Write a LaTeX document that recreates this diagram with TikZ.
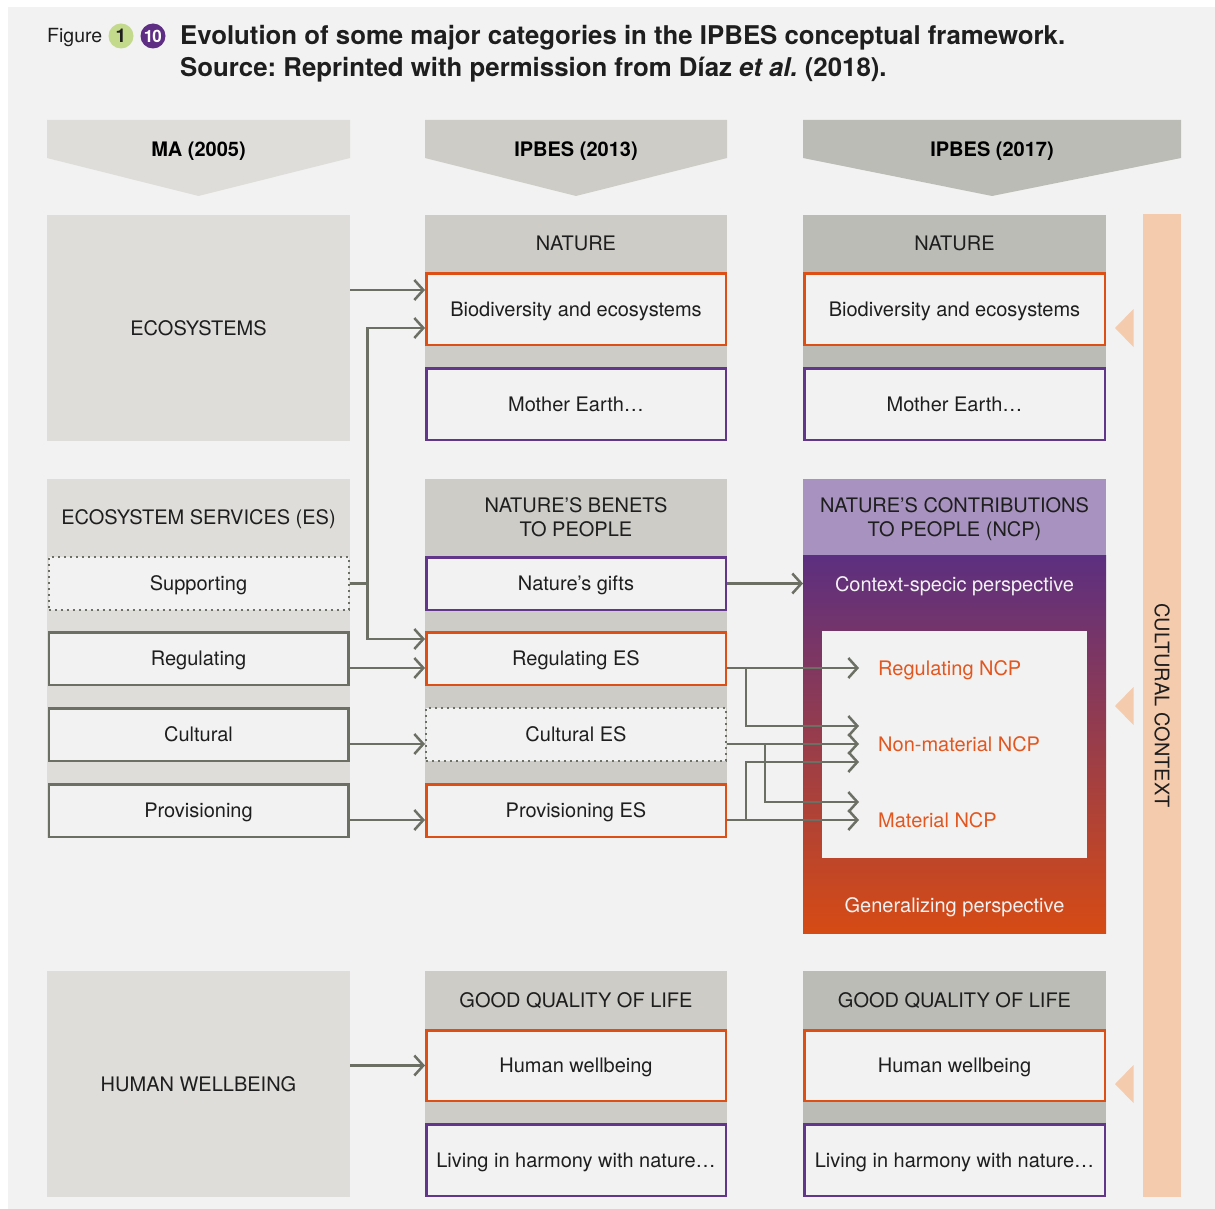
\documentclass[tikz,border=0pt]{standalone}
\usepackage{fontspec}
\setmainfont{TeX Gyre Heros}
\usetikzlibrary{arrows.meta,calc}
\definecolor{bg}{HTML}{F2F2F2}
\definecolor{g1}{HTML}{DEDDD9}
\definecolor{g2}{HTML}{CDCCC7}
\definecolor{g3}{HTML}{BBBCB6}
\definecolor{org}{HTML}{DE4F16}
\definecolor{pur}{HTML}{62368A}
\definecolor{cl}{HTML}{6C6F64}
\definecolor{lpur}{HTML}{A892BF}
\definecolor{gtop}{HTML}{5C2F80}
\definecolor{gbot}{HTML}{D64B14}
\definecolor{peach}{HTML}{F5CBAE}
\definecolor{ink}{HTML}{1E1E1E}
\definecolor{fgreen}{HTML}{C3D98B}
\definecolor{fpur}{HTML}{5E2D84}
\definecolor{otxt}{HTML}{E2571F}
\frenchspacing
\begin{document}
\begin{tikzpicture}[x=1pt,y=-1pt,
 txt/.style={font=\fontsize{20}{24}\selectfont, text=ink, text height=14.4pt, text depth=0pt, inner sep=0pt, align=center},
 panel/.style={txt, minimum height=226pt, minimum width=303pt, outer sep=0pt},
 box/.style={txt, line width=2.5pt, fill=bg, minimum width=299.5pt},
 obox/.style={box, draw=org},
 pbox/.style={box, draw=pur},
 gbox/.style={box, draw=cl},
 dbox/.style={box, draw=cl, line width=2pt, dash pattern=on 2pt off 4pt, minimum width=300pt},
 conn/.style={draw=cl, line width=2.5pt, -{Straight Barb[length=9pt,width=20pt]}},
 hdr/.style={font=\fontsize{20}{24}\selectfont\bfseries, text=black, text height=14.4pt, text depth=0pt, inner sep=0pt},
 wtxt/.style={txt, text=bg},
 otx/.style={txt, text=otxt, anchor=west},
 tri/.style={fill=peach},
]
\useasboundingbox (0,0) rectangle (1215,1209);
\fill[bg] (8,7) rectangle (1215,1209);

% title
\node[anchor=base west, inner sep=0pt, font=\fontsize{19.5}{22}\selectfont, text=ink] (fig) at (47,43) {Figure};
\node[circle, fill=fgreen, minimum size=25pt, inner sep=0pt, font=\fontsize{19}{20}\selectfont\bfseries, text=ink] (c1) at (121,36) {1};
\node[circle, fill=fpur, minimum size=25pt, inner sep=0pt, font=\fontsize{17}{18}\selectfont\bfseries, text=white] (c10) at (153,36) {\kern-0.5pt1\kern-1pt0};
\node[anchor=base west, inner sep=0pt, font=\fontsize{25.8}{32}\selectfont\bfseries, text=ink] (t1) at (180,45) {Evolution of some major categories in the IPBES conceptual framework.};
\node[anchor=base west, inner sep=0pt, font=\fontsize{25.8}{32}\selectfont\bfseries, text=ink] (t2) at (180,77) {Source: Reprinted with permission from Díaz \textit{et al.} (2018).};

% column headers
\fill[g1] (47,120) -- (350,120) -- (350,158) -- (198.5,196) -- (47,158) -- cycle;
\fill[g2] (425,120) -- (727,120) -- (727,158) -- (576,196) -- (425,158) -- cycle;
\fill[g3] (803,120) -- (1181,120) -- (1181,158) -- (992,196) -- (803,158) -- cycle;
\node[hdr] (h1) at (198.5,149) {MA (2005)};
\node[hdr] (h2) at (576,149) {IPBES (2013)};
\node[hdr] (h3) at (992,149) {IPBES (2017)};

% top row
\node[panel, fill=g1] (eco) at (198.5,328) {ECOSYSTEMS};
\node[panel, fill=g2, minimum width=302pt] (p2a) at (576,328) {};
\node[panel, fill=g3] (p3a) at (954.5,328) {};
\node[txt] (nat2) at (576,243) {NATURE};
\node[txt] (nat3) at (954.5,243) {NATURE};
\node[obox, minimum height=71.5pt] (bio2) at (576,309) {Biodiversity and ecosystems};
\node[pbox, minimum height=71.5pt] (me2) at (576,404) {Mother Earth…};
\node[obox, minimum height=71.5pt, minimum width=300.5pt] (bio3) at (954.5,309) {Biodiversity and ecosystems};
\node[pbox, minimum height=71.5pt, minimum width=300.5pt] (me3) at (954.5,404) {Mother Earth…};

% middle row
\node[panel, fill=g1, minimum height=359pt] (p1b) at (198.5,658.5) {};
\node[txt] (es1) at (198.5,517) {ECOSYSTEM SERVICES (ES)};
\node[dbox, minimum height=53pt] (sup1) at (198.5,583.5) {Supporting};
\node[gbox, minimum height=52.5pt] (reg1) at (198.5,658.5) {Regulating};
\node[gbox, minimum height=52.5pt] (cul1) at (198.5,734.5) {Cultural};
\node[gbox, minimum height=52.5pt] (pro1) at (198.5,810.5) {Provisioning};

\node[panel, fill=g2, minimum width=302pt, minimum height=359pt] (p2b) at (576,658.5) {};
\node[txt] (nb2) at (576,529) {NATURE’S BENETS\\TO PEOPLE};
\node[pbox, minimum height=52.5pt] (gifts2) at (576,583.5) {Nature’s gifts};
\node[obox, minimum height=52.5pt] (reg2) at (576,658.5) {Regulating ES};
\node[dbox, minimum height=53pt] (cul2) at (576,734.5) {Cultural ES};
\node[obox, minimum height=52.5pt] (pro2) at (576,810.5) {Provisioning ES};

\node[fill=lpur, minimum width=303pt, minimum height=76pt, inner sep=0pt, outer sep=0pt] (ncph) at (954.5,517) {};
\node[txt] (ncpt) at (954.5,529) {NATURE’S CONTRIBUTIONS\\TO PEOPLE (NCP)};
\node[top color=gtop, bottom color=gbot, minimum width=303pt, minimum height=378pt, inner sep=0pt, outer sep=0pt] (ncp) at (954.5,744) {};
\node[fill=bg, minimum width=265pt, minimum height=227pt, inner sep=0pt, outer sep=0pt] (inner) at (954.5,744.5) {};
\node[wtxt] (ctx) at (954.5,584) {Context-specic perspective};
\node[wtxt] (gen) at (954.5,905) {Generalizing perspective};

% bottom row
\node[panel, fill=g1] (hw1) at (198.5,1084) {HUMAN WELLBEING};
\node[panel, fill=g2, minimum width=302pt] (p2c) at (576,1084) {};
\node[panel, fill=g3] (p3c) at (954.5,1084) {};
\node[txt] (gq2) at (576,1000) {GOOD QUALITY OF LIFE};
\node[txt] (gq3) at (954.5,1000) {GOOD QUALITY OF LIFE};
\node[obox, minimum height=70.5pt] (hw2) at (576,1065.5) {Human wellbeing};
\node[pbox, minimum height=71.5pt] (lh2) at (576,1160) {Living in harmony with nature…};
\node[obox, minimum height=70.5pt, minimum width=300.5pt] (hw3) at (954.5,1065.5) {Human wellbeing};
\node[pbox, minimum height=71.5pt, minimum width=300.5pt] (lh3) at (954.5,1160) {Living in harmony with nature…};

% cultural context
\node[fill=peach, minimum width=38pt, minimum height=983pt, inner sep=0pt, outer sep=0pt] (cc) at (1162,705.5) {};
\node[txt, rotate=-90] (cct) at (cc.center) {CULTURAL CONTEXT};
\fill[tri] (1115,328) -- (1133.5,309) -- (1133.5,347) -- cycle;
\fill[tri] (1115,706) -- (1133.5,687) -- (1133.5,725) -- cycle;
\fill[tri] (1115,1084) -- (1133.5,1065) -- (1133.5,1103) -- cycle;

% NCP labels
\node[otx] (rn) at (878,668) {Regulating NCP};
\node[otx] (nn) at (878,744) {Non-material NCP};
\node[otx] (mn) at (878,820) {Material NCP};

% connectors left
\coordinate (a1) at ([yshift=19pt]bio2.west);
\coordinate (a2) at ([yshift=-19pt]bio2.west);
\coordinate (j1) at ([xshift=18pt]sup1.east);
\draw[conn] (eco.east |- a1) -- (a1);
\draw[conn] (sup1.east) -- (j1) |- (a2);
\draw[conn] (j1) |- ([yshift=19.5pt]reg2.west);
\draw[conn] ([yshift=-9.5pt]reg1.east) -- ([yshift=-9.5pt]reg2.west);
\draw[conn] ([yshift=-9.5pt]cul1.east) -- ([yshift=-9.5pt]cul2.west);
\draw[conn] ([yshift=-9.5pt]pro1.east) -- ([yshift=-9.5pt]pro2.west);
\draw[conn] (hw1.east |- hw2.west) -- (hw2.west);
\draw[conn] (gifts2.east) -- (gifts2.east -| ncp.west);

% connectors right
\coordinate (ra) at ([yshift=-9.5pt]reg2.east);
\coordinate (ca) at ([yshift=-9.5pt]cul2.east);
\coordinate (pa) at ([yshift=-9.5pt]pro2.east);
\coordinate (rt) at ([xshift=-19pt]rn.west);
\coordinate (nt) at ([xshift=-19pt]nn.west);
\coordinate (mt) at ([xshift=-19pt]mn.west);
\draw[conn] (ra) -- (rt);
\draw[conn] (ra) -- ++(19,0) |- ([yshift=18pt]nt);
\draw[conn] (ca) -- (nt);
\draw[conn] (ca) -- ++(38,0) |- ([yshift=18pt]mt);
\draw[conn] (pa) -- (mt);
\draw[conn] (pa) -- ++(19,0) |- ([yshift=-18pt]nt);
\end{tikzpicture}
\end{document}
